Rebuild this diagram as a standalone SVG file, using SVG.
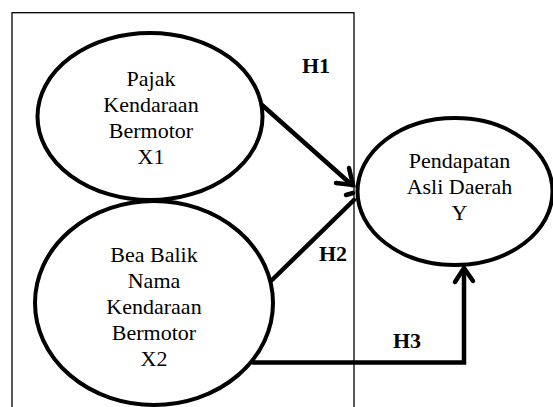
<svg xmlns="http://www.w3.org/2000/svg" width="553" height="407" viewBox="0 0 553 407">
<style>
.frame{fill:none;stroke:#000;stroke-width:1.3}
.node{fill:#fff;stroke:#000;stroke-width:4}
.lbl{font-family:"Liberation Serif","Times New Roman",serif;font-size:22px;fill:#000;text-anchor:middle}
.h{font-family:"Liberation Serif","Times New Roman",serif;font-size:22px;font-weight:bold;fill:#000;text-anchor:middle}
.conn{fill:none;stroke:#000;stroke-width:4.5;stroke-linecap:round;stroke-linejoin:miter}
</style>
<rect width="553" height="407" fill="#fff"/>
<rect class="frame" x="12" y="12.7" width="342" height="420"/>
<g id="x1">
<ellipse class="node" cx="150" cy="116.5" rx="112.5" ry="83.5"/>
<text class="lbl" x="151" y="86">Pajak</text>
<text class="lbl" x="151" y="112">Kendaraan</text>
<text class="lbl" x="151" y="138">Bermotor</text>
<text class="lbl" x="151" y="163.5">X1</text>
</g>
<g id="x2">
<ellipse class="node" cx="154" cy="303" rx="119" ry="102"/>
<text class="lbl" x="154" y="262">Bea Balik</text>
<text class="lbl" x="154" y="288">Nama</text>
<text class="lbl" x="154" y="314">Kendaraan</text>
<text class="lbl" x="154" y="340">Bermotor</text>
<text class="lbl" x="154" y="366">X2</text>
</g>
<g id="y">
<ellipse class="node" cx="455" cy="191.5" rx="97.5" ry="73.5"/>
<text class="lbl" x="459.5" y="167.5">Pendapatan</text>
<text class="lbl" x="459.5" y="193.5">Asli Daerah</text>
<text class="lbl" x="459.5" y="219.5">Y</text>
</g>
<g id="connectors">
<path class="conn" d="M262 105 L352 185"/>
<path class="conn" d="M349 168 L353 185 L336 183"/>
<path class="conn" d="M272 280 L354 200"/>
<path class="conn" d="M346 195 L353 193"/>
<path class="conn" d="M253 362.5 L464 362.5 L464 269"/>
<path class="conn" d="M455 282 L464 268 L473 281"/>
</g>
<g id="labels">
<text class="h" x="316" y="73">H1</text>
<text class="h" x="333" y="261">H2</text>
<text class="h" x="407" y="348">H3</text>
</g>
</svg>
